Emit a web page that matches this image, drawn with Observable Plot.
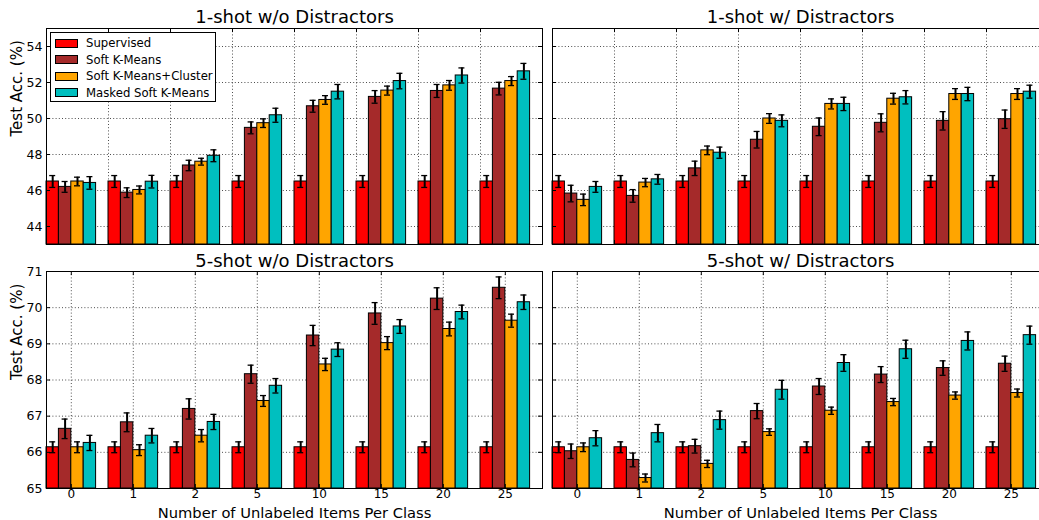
<!DOCTYPE html>
<html>
<head>
<meta charset="utf-8">
<script src="https://cdn.jsdelivr.net/npm/d3@7"></script>
<script src="https://cdn.jsdelivr.net/npm/@observablehq/plot@0.6"></script>
<style>
  html, body { margin: 0; padding: 0; background: #fff; }
  #wrap { position: relative; width: 1039px; height: 520px; overflow: hidden; font-family: "DejaVu Sans", sans-serif; }
  .panel { position: absolute; }
  .panel svg { max-width: none !important; }
  #legend { position: absolute; left: 50px; top: 32px; width: 166px; height: 70px; border: 1px solid #000; background: #fff; box-sizing: border-box; font-size: 11.7px; white-space: nowrap; }
  #legend .row { position: absolute; left: 4px; height: 16px; display: flex; align-items: center; }
  #legend .sw { width: 21px; height: 7px; border: 1px solid #000; margin-right: 8px; flex: none; }
</style>
</head>
<body>
<div id="wrap"></div>
<script>
// ---- data ----
const groups = ["0", "1", "2", "5", "10", "15", "20", "25"];
const methods = ["Supervised", "Soft K-Means", "Soft K-Means+Cluster", "Masked Soft K-Means"];
const colors = ["#ff0000", "#a52a2a", "#ffa500", "#00bfbf"];

// 1-shot w/o distractors: means per method, then errors
const oneShotWo = [
  [46.5, 46.5, 46.5, 46.5, 46.5, 46.5, 46.5, 46.5],
  [46.2, 45.88, 47.39, 49.48, 50.68, 51.2, 51.53, 51.66],
  [46.5, 46.03, 47.6, 49.74, 51.03, 51.55, 51.84, 52.08],
  [46.42, 46.49, 47.93, 50.18, 51.49, 52.08, 52.39, 52.62]
];
const oneShotWoErr = [
  [0.33, 0.33, 0.33, 0.33, 0.33, 0.33, 0.33, 0.33],
  [0.3, 0.27, 0.29, 0.33, 0.33, 0.35, 0.36, 0.35],
  [0.24, 0.22, 0.19, 0.24, 0.24, 0.25, 0.27, 0.25],
  [0.35, 0.35, 0.33, 0.39, 0.4, 0.43, 0.42, 0.44]
];
// 1-shot w/ distractors
const oneShotW = [
  [46.5, 46.5, 46.5, 46.5, 46.5, 46.5, 46.5, 46.5],
  [45.83, 45.7, 47.23, 48.82, 49.54, 49.76, 49.87, 49.96],
  [45.48, 46.44, 48.23, 50.0, 50.81, 51.1, 51.36, 51.36],
  [46.2, 46.62, 48.1, 49.87, 50.81, 51.18, 51.36, 51.49]
];
const oneShotWErr = [
  [0.33, 0.33, 0.33, 0.33, 0.33, 0.33, 0.33, 0.33],
  [0.46, 0.35, 0.4, 0.46, 0.49, 0.5, 0.51, 0.51],
  [0.32, 0.23, 0.24, 0.27, 0.28, 0.3, 0.3, 0.3],
  [0.3, 0.27, 0.31, 0.33, 0.37, 0.37, 0.37, 0.36]
];
// 5-shot w/o distractors
const fiveShotWo = [
  [66.14, 66.14, 66.14, 66.14, 66.14, 66.14, 66.14, 66.14],
  [66.65, 66.83, 67.2, 68.16, 69.23, 69.84, 70.25, 70.55],
  [66.14, 66.06, 66.46, 67.42, 68.43, 69.02, 69.41, 69.64],
  [66.26, 66.46, 66.84, 67.84, 68.84, 69.48, 69.88, 70.15]
];
const fiveShotWoErr = [
  [0.15, 0.15, 0.15, 0.15, 0.15, 0.15, 0.15, 0.15],
  [0.27, 0.26, 0.28, 0.25, 0.28, 0.3, 0.3, 0.3],
  [0.15, 0.15, 0.17, 0.15, 0.17, 0.18, 0.19, 0.18],
  [0.21, 0.2, 0.21, 0.2, 0.19, 0.19, 0.19, 0.2]
];
// 5-shot w/ distractors
const fiveShotW = [
  [66.14, 66.14, 66.14, 66.14, 66.14, 66.14, 66.14, 66.14],
  [66.03, 65.79, 66.17, 67.14, 67.82, 68.15, 68.33, 68.45],
  [66.14, 65.29, 65.68, 66.56, 67.15, 67.39, 67.57, 67.64],
  [66.39, 66.53, 66.89, 67.73, 68.47, 68.85, 69.08, 69.24]
];
const fiveShotWErr = [
  [0.15, 0.15, 0.15, 0.15, 0.15, 0.15, 0.15, 0.15],
  [0.2, 0.19, 0.19, 0.21, 0.22, 0.22, 0.2, 0.21],
  [0.12, 0.11, 0.1, 0.09, 0.1, 0.1, 0.1, 0.11],
  [0.21, 0.24, 0.25, 0.26, 0.23, 0.25, 0.25, 0.25]
];
const yTicksTop = [44, 46, 48, 50, 52, 54];
const yTicksBottom = [65, 66, 67, 68, 69, 70, 71];

// ---- drawing ----
const barW = 0.2;
const plotW = 496;

function rowsFor(means, errs) {
  const rows = [];
  means.forEach((series, m) => series.forEach((v, g) => {
    rows.push({g, m, x1: g + m * barW, x2: g + (m + 1) * barW, xc: g + (m + 0.5) * barW, y: v, err: errs[m][g]});
  }));
  return rows;
}

function panel(opts) {
  const {means, errs, title, titleY, yDomain, yTicks, plotH, mt, mb, ml, mr, showY, showX, left, top} = opts;
  const rows = rowsFor(means, errs);
  const xDomain = [0, 8];
  const ux = (xDomain[1] - xDomain[0]) / plotW;      // data units per px (x)
  const uy = (yDomain[1] - yDomain[0]) / plotH;      // data units per px (y)
  const gridX = showX ? groups.map((_, i) => i + 0.4) : d3.range(1, 8);
  const tickXs = gridX;
  const innerY = yTicks.filter(t => t > yDomain[0] && t < yDomain[1]);
  const capHalf = 3 * ux;
  const tl = 4;
  const dot = {stroke: "#000", strokeWidth: 0.7, strokeDasharray: "1,2.2"};
  const marks = [
    Plot.ruleY(innerY, {...dot}),
    Plot.ruleX(gridX, {...dot}),
    Plot.rect(rows, {x1: "x1", x2: "x2", y1: yDomain[0], y2: "y", fill: d => colors[d.m], stroke: "#000", strokeWidth: 1}),
    Plot.ruleX(rows, {x: "xc", y1: d => d.y - d.err, y2: d => d.y + d.err, stroke: "#000", strokeWidth: 2}),
    Plot.ruleY(rows, {y: d => d.y - d.err, x1: d => d.xc - capHalf, x2: d => d.xc + capHalf, stroke: "#000", strokeWidth: 1.3}),
    Plot.ruleY(rows, {y: d => d.y + d.err, x1: d => d.xc - capHalf, x2: d => d.xc + capHalf, stroke: "#000", strokeWidth: 1.3}),
    // inward tick marks on all four sides
    Plot.ruleY(yTicks, {x1: xDomain[0], x2: xDomain[0] + tl * ux, stroke: "#000", strokeWidth: 1}),
    Plot.ruleY(yTicks, {x1: xDomain[1] - tl * ux, x2: xDomain[1], stroke: "#000", strokeWidth: 1}),
    Plot.ruleX(tickXs, {y1: yDomain[0], y2: yDomain[0] + tl * uy, stroke: "#000", strokeWidth: 1}),
    Plot.ruleX(tickXs, {y1: yDomain[1] - tl * uy, y2: yDomain[1], stroke: "#000", strokeWidth: 1}),
    Plot.frame({stroke: "#000", strokeWidth: 1}),
    Plot.text([title], {frameAnchor: "top", dy: -(mt - titleY), fontSize: 18, lineAnchor: "middle", fill: "#000"})
  ];
  if (showY) {
    marks.push(Plot.axisY({ticks: yTicks, tickSize: 0, tickPadding: 4, fontSize: 12.5, label: null, tickFormat: d => String(d), fill: "#000"}));
    marks.push(Plot.text(["Test Acc. (%)"], {frameAnchor: "left", dx: -(ml - 17), rotate: -90, fontSize: 15, lineAnchor: "middle", fill: "#000"}));
  }
  if (showX) {
    marks.push(Plot.axisX({ticks: tickXs, tickSize: 0, tickPadding: 1, fontSize: 12, label: null, tickFormat: d => groups[Math.round(d - 0.4)], fill: "#000"}));
    marks.push(Plot.text(["Number of Unlabeled Items Per Class"], {frameAnchor: "bottom", dy: 24.5, fontSize: 14.7, lineAnchor: "middle", fill: "#000"}));
  }
  const w = ml + plotW + mr, h = mt + plotH + mb;
  const chart = Plot.plot({
    width: w,
    height: h,
    marginLeft: ml, marginRight: mr, marginTop: mt, marginBottom: mb,
    x: {domain: xDomain, axis: null},
    y: {domain: yDomain, axis: null},
    style: {fontFamily: "DejaVu Sans", fontSize: "12.5px", background: "transparent", overflow: "visible"},
    marks
  });
  const div = document.createElement("div");
  div.className = "panel";
  div.style.left = left + "px";
  div.style.top = top + "px";
  div.style.width = w + "px";
  div.style.height = h + "px";
  chart.style.maxWidth = "none";
  chart.setAttribute("width", w);
  chart.setAttribute("height", h);
  div.appendChild(chart);
  document.getElementById("wrap").appendChild(div);
}

panel({means: oneShotWo, errs: oneShotWoErr, title: "1-shot w/o Distractors", titleY: 17, yDomain: [43, 55], yTicks: yTicksTop,
  plotH: 216, mt: 28, mb: 2, ml: 46, mr: 2, showY: true, showX: false, left: 0, top: 0});
panel({means: oneShotW, errs: oneShotWErr, title: "1-shot w/ Distractors", titleY: 17, yDomain: [43, 55], yTicks: yTicksTop,
  plotH: 216, mt: 28, mb: 2, ml: 32, mr: 2, showY: false, showX: false, left: 520, top: 0});
panel({means: fiveShotWo, errs: fiveShotWoErr, title: "5-shot w/o Distractors", titleY: 11, yDomain: [65, 71], yTicks: yTicksBottom,
  plotH: 217, mt: 21, mb: 32, ml: 46, mr: 2, showY: true, showX: true, left: 0, top: 250});
panel({means: fiveShotW, errs: fiveShotWErr, title: "5-shot w/ Distractors", titleY: 11, yDomain: [65, 71], yTicks: yTicksBottom,
  plotH: 217, mt: 21, mb: 32, ml: 32, mr: 2, showY: false, showX: true, left: 520, top: 250});

// legend built from the method list
const legend = document.createElement("div");
legend.id = "legend";
methods.forEach((name, i) => {
  const row = document.createElement("div");
  row.className = "row";
  row.style.top = (2 + i * 16.6) + "px";
  const sw = document.createElement("span");
  sw.className = "sw";
  sw.style.background = colors[i];
  const lab = document.createElement("span");
  lab.textContent = name;
  row.appendChild(sw);
  row.appendChild(lab);
  legend.appendChild(row);
});
document.getElementById("wrap").appendChild(legend);
</script>
</body>
</html>
